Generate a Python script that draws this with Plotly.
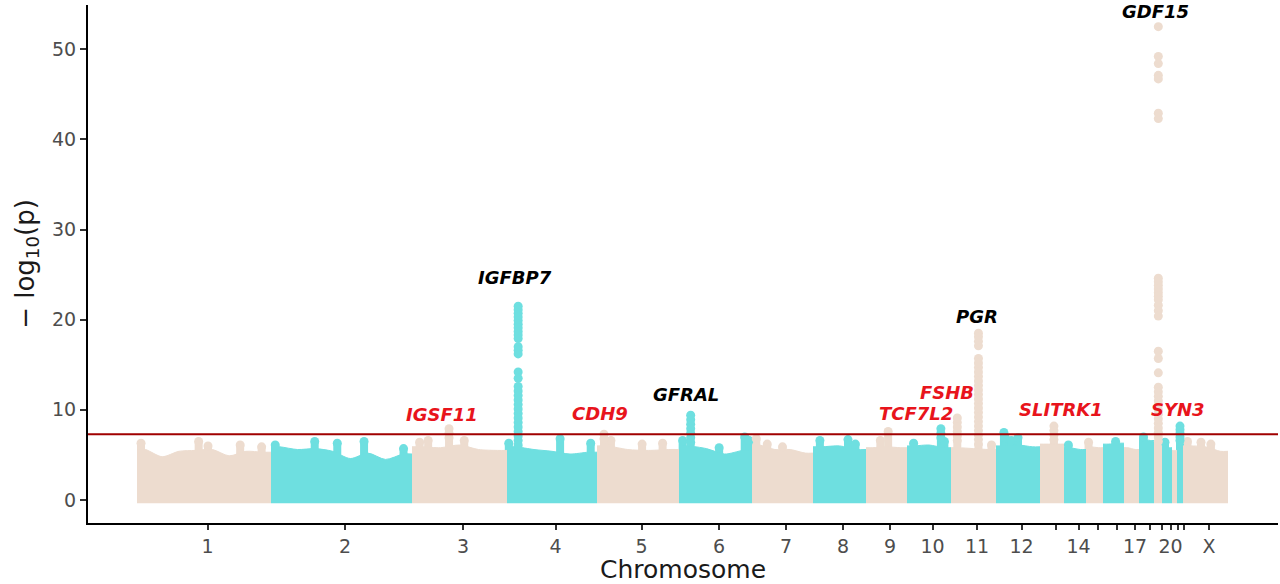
import numpy as np
import plotly.graph_objects as go

chromosomes = [str(i) for i in range(1, 23)] + ["X"]
# width each chromosome takes on the x axis (relative units)
chrom_span = [134, 141, 95, 90, 82, 73, 61, 53, 41, 44, 45, 44,
              24, 22, 17, 21, 15, 15, 8, 10, 5, 6, 45]
tick_shown = ["1", "2", "3", "4", "5", "6", "7", "8", "9", "10", "11", "12",
              "14", "17", "20", "X"]

# upper edge of the dense cloud of SNPs, left to right along each chromosome
band_top = [
    [5.6, 4.8, 5.4, 5.5, 5.6, 4.9, 5.4, 5.3],
    [5.9, 5.6, 5.7, 5.4, 4.6, 5.2, 4.5, 5.1],
    [5.9, 5.8, 6.1, 5.6, 5.5],
    [5.9, 5.6, 5.4, 5.1, 5.3],
    [6.0, 5.6, 5.5, 5.6],
    [6.0, 5.7, 5.1, 5.5],
    [6.1, 5.6, 5.6, 5.2],
    [5.9, 6.0, 5.6],
    [5.8, 5.9, 5.8],
    [6.0, 6.1, 5.8],
    [5.8, 5.7, 5.6],
    [6.0, 6.1, 5.9],
    [6.2, 6.2],
    [5.8, 5.6],
    [5.9, 5.8],
    [6.2, 6.3],
    [5.8, 5.6],
    [6.8, 6.6],
    [6.3],
    [5.9, 5.8],
    [5.5],
    [5.8],
    [6.0, 5.9, 5.4],
]

# single SNPs standing out just above the cloud
bump_chrom = ["1", "1", "1", "1", "1", "2", "2", "2", "2", "2",
              "3", "3", "3", "4", "4", "4", "5", "5", "5",
              "6", "6", "6", "6", "7", "7", "7", "8", "8", "8",
              "9", "9", "10", "10", "11", "12", "12", "12", "12",
              "14", "15", "16", "18", "20", "X", "X", "X"]
bump_frac = [0.03, 0.46, 0.53, 0.77, 0.93, 0.03, 0.31, 0.47, 0.66, 0.94,
             0.08, 0.17, 0.55, 0.02, 0.59, 0.93, 0.17, 0.55, 0.80,
             0.05, 0.55, 0.90, 0.96, 0.07, 0.25, 0.50, 0.13, 0.66, 0.80,
             0.35, 0.54, 0.15, 0.85, 0.90, 0.18, 0.21, 0.35, 0.50,
             0.20, 0.15, 0.60, 0.30, 0.30, 0.10, 0.40, 0.62]
bump_val = [6.3, 6.5, 6.0, 6.1, 5.9, 6.1, 6.5, 6.3, 6.5, 5.7,
            6.4, 6.6, 6.6, 6.3, 6.8, 6.3, 6.6, 6.2, 6.3,
            6.6, 5.8, 7.0, 6.6, 6.8, 6.2, 5.9, 6.6, 6.7, 6.2,
            6.6, 7.6, 6.3, 6.5, 6.1, 7.5, 6.9, 6.6, 6.9,
            6.1, 6.4, 6.5, 7.0, 6.4, 6.5, 6.4, 6.2]

# annotated loci
peak_gene = ["IGSF11", "IGFBP7", "CDH9", "GFRAL", "TCF7L2",
             "FSHB", "PGR", "SLITRK1", "GDF15", "SYN3"]
peak_chrom = ["3", "4", "5", "6", "10", "11", "11", "13", "19", "22"]
peak_frac = [0.39, 0.124, 0.085, 0.16, 0.77, 0.14, 0.61, 0.58, 0.54, 0.5]

igsf11 = [7.9, 7.4, 6.9]
igfbp7 = [21.5, 21.1, 20.7, 20.3, 19.9, 19.5, 19.1, 18.7, 18.3, 17.9, 17.0,
          16.6, 16.2, 14.2, 13.5, 12.6, 12.1, 11.6, 11.1, 10.6, 10.1, 9.6,
          9.1, 8.6, 8.1, 7.6, 7.1, 6.6, 6.1]
cdh9 = [7.3, 6.8]
gfral = [9.4, 8.9, 8.4, 7.9, 7.4, 6.9, 6.4]
tcf7l2 = [7.9, 7.4, 6.9]
fshb = [9.1, 8.6, 8.1, 7.6, 7.1, 6.6]
pgr = [18.5, 18.1, 17.6, 17.1, 15.7, 15.2, 14.7, 14.2, 13.7, 13.2, 12.7,
       12.2, 11.7, 11.2, 10.7, 10.2, 9.7, 9.2, 8.7, 8.2, 7.7, 7.2, 6.7, 6.2]
slitrk1 = [8.2, 7.7, 7.2, 6.7]
gdf15 = [52.5, 49.2, 48.4, 47.1, 46.7, 42.9, 42.3, 24.6, 24.2, 23.8, 23.4,
         23.0, 22.6, 22.2, 21.6, 21.0, 20.4, 16.5, 15.7, 14.1, 12.5, 12.0,
         11.5, 11.0, 10.5, 10.0, 9.5, 9.0, 8.5, 8.0, 7.5, 7.0, 6.5]
syn3 = [8.2, 7.8, 7.4, 7.0, 6.6]
peak_vals = [igsf11, igfbp7, cdh9, gfral, tcf7l2, fshb, pgr, slitrk1, gdf15, syn3]

label_y = [9.5, 24.7, 9.6, 11.75, 9.6, 11.9, 20.4, 10.0, 54.2, 10.0]
label_dx = [-7, -3, -4, -5, -25, -10, -1, 7, -3, -2]
label_red = ["IGSF11", "CDH9", "TCF7L2", "FSHB", "SLITRK1", "SYN3"]

genome_wide = -np.log10(5e-8)

BEIGE = "#EDDCCF"
CYAN = "#6EDFE0"
FLOOR = -0.37      # points at p = 1 still poke below zero by one marker radius
TICK_SHIFT = 3.5   # chromosome ticks sit a little right of the block centres

span = np.array(chrom_span, dtype=float)
starts = np.concatenate([[0], np.cumsum(span)[:-1]])
ends = starts + span
centers = (starts + ends) / 2
idx = {c: i for i, c in enumerate(chromosomes)}


def colour(c):
    return BEIGE if idx[c] % 2 == 0 else CYAN


def pos(c, f):
    i = idx[c]
    return starts[i] + f * span[i]


fig = go.Figure()

# the bulk of the SNPs, one block per chromosome
for i, c in enumerate(chromosomes):
    tops = band_top[i]
    n = len(tops)
    xs = [starts[i]] + list(starts[i] + (np.arange(n) + 0.5) / n * span[i]) + [ends[i]]
    ys = [tops[0]] + tops + [tops[-1]]
    fig.add_trace(go.Scatter(
        x=[starts[i], ends[i]], y=[FLOOR, FLOOR], mode="lines",
        line=dict(width=0), hoverinfo="skip", showlegend=False
    ))
    fig.add_trace(go.Scatter(
        x=xs, y=ys, mode="lines", fill="tonexty", fillcolor=colour(c),
        line=dict(color=colour(c), width=1, shape="spline", smoothing=0.8),
        hoverinfo="skip", showlegend=False
    ))

# stems joining the standout SNPs to the cloud beneath them
stem_x, stem_y, stem_c = [], [], []
for c, f, v in zip(bump_chrom, bump_frac, bump_val):
    stem_x.append(pos(c, f)); stem_y.append(v); stem_c.append(colour(c))
for c, f, vals in zip(peak_chrom, peak_frac, peak_vals):
    stem_x.append(pos(c, f)); stem_y.append(min(vals)); stem_c.append(colour(c))

fig.add_trace(go.Bar(
    x=stem_x, y=stem_y, width=8, marker=dict(color=stem_c, line=dict(width=0)),
    hoverinfo="skip", showlegend=False
))

# individual points above the cloud
pt_x, pt_y, pt_c = [], [], []
for c, f, v in zip(bump_chrom, bump_frac, bump_val):
    pt_x.append(pos(c, f)); pt_y.append(v); pt_c.append(colour(c))
for c, f, vals in zip(peak_chrom, peak_frac, peak_vals):
    for v in vals:
        pt_x.append(pos(c, f)); pt_y.append(v); pt_c.append(colour(c))

fig.add_trace(go.Scatter(
    x=pt_x, y=pt_y, mode="markers",
    marker=dict(size=9, color=pt_c, line=dict(width=0)),
    showlegend=False
))

fig.add_hline(y=genome_wide, line=dict(color="#A00000", width=2))

for g, c, f, y, dx in zip(peak_gene, peak_chrom, peak_frac, label_y, label_dx):
    fig.add_annotation(
        x=pos(c, f), y=y, text=g, showarrow=False, xshift=dx,
        font=dict(family="DejaVu Sans", size=18, weight="bold", style="italic",
                  color="#E8141C" if g in label_red else "black")
    )

axis_font = dict(family="DejaVu Sans", size=19, color="#4D4D4D")
fig.update_layout(
    width=1280, height=584,
    margin=dict(l=88, r=2, t=5, b=61),
    plot_bgcolor="white", paper_bgcolor="white",
    showlegend=False, barmode="overlay",
    xaxis=dict(
        range=[-49, 1141],
        tickvals=centers + TICK_SHIFT,
        ticktext=[c if c in tick_shown else "" for c in chromosomes],
        ticks="outside", ticklen=5, tickwidth=1.5, tickcolor="#333333",
        showline=True, linecolor="black", linewidth=2,
        showgrid=False, zeroline=False, tickfont=axis_font,
        title=dict(text="Chromosome", standoff=0,
                   font=dict(family="DejaVu Sans", size=25, color="#1A1A1A"))
    ),
    yaxis=dict(
        range=[-2.55, 54.9],
        tickvals=[0, 10, 20, 30, 40, 50],
        ticks="outside", ticklen=6, tickwidth=1.5, tickcolor="#333333",
        showline=True, linecolor="black", linewidth=2,
        showgrid=False, zeroline=False, tickfont=axis_font,
        title=dict(text="\u2212 log<sub>10</sub>(p)", standoff=10,
                   font=dict(family="DejaVu Sans", size=26, color="#1A1A1A"))
    ),
)

fig.write_html("out.html", config={"displayModeBar": False},
               post_script="document.body.style.margin = '0px';")
